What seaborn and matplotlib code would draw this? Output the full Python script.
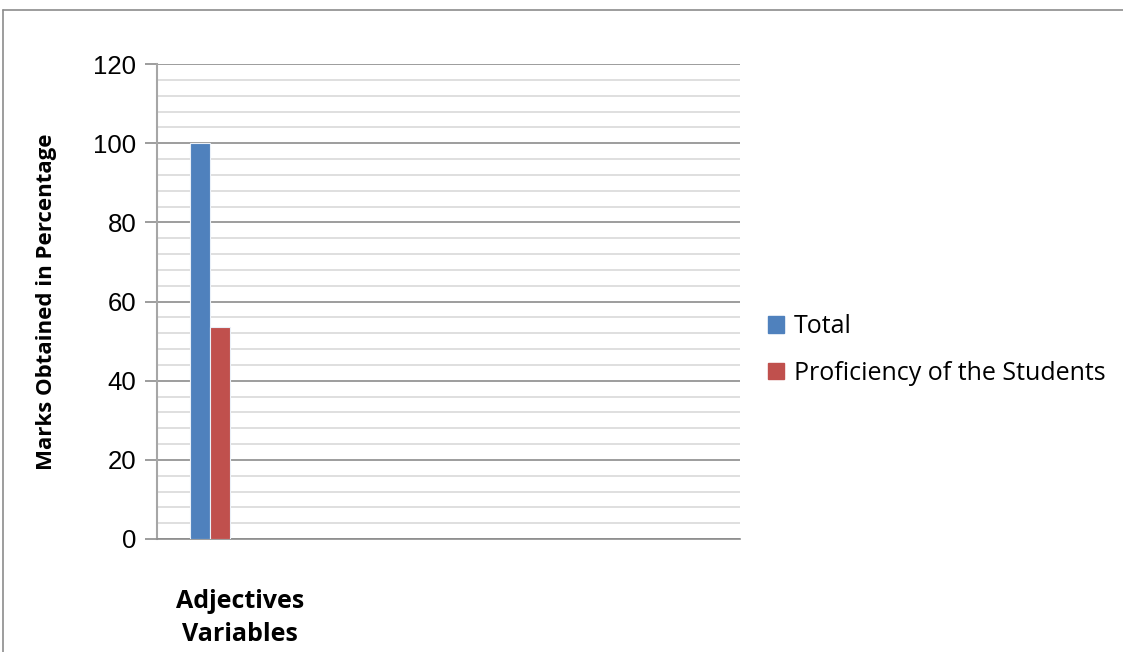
import matplotlib
matplotlib.use("Agg")
import matplotlib.pyplot as plt
import matplotlib.patches as mpatches
import seaborn as sns
import pandas as pd
import numpy as np

categories = ["Adjectives Variables"]
series = ["Total", "Proficiency of the Students"]
total_vals = [100]
prof_vals = [53.5]
colors = ["#4F81BD", "#C0504D"]
yticks = [0, 20, 40, 60, 80, 100, 120]

df = pd.DataFrame({
    "cat": categories * 2,
    "series": [series[0]] * len(categories) + [series[1]] * len(categories),
    "value": total_vals + prof_vals,
})

sns.set_theme(style="white")
plt.rcParams["font.family"] = ["Liberation Sans", "DejaVu Sans"]
plt.rcParams["text.color"] = "black"
plt.rcParams["axes.labelcolor"] = "black"
plt.rcParams["ytick.labelcolor"] = "black"

fig = plt.figure(figsize=(11.23, 6.52), dpi=100)
ax = fig.add_axes([157 / 1123, 1 - 539 / 652, (740 - 157) / 1123, (539 - 64) / 652])

for y in np.arange(0, 121, 4):
    ax.axhline(y, color="#D9D9D9" if y % 20 else "#8C8C8C", lw=1.2, zorder=0)

sns.barplot(data=df, x="cat", y="value", hue="series", palette=colors, saturation=1,
            width=0.8, ax=ax, edgecolor="#EAF0F8", linewidth=0.8, zorder=3, legend=False)

ax.set_xlim(-1.06, 10.6)
ax.set_ylim(0, 120)
ax.set_yticks(yticks)
ax.set_yticklabels([str(t) for t in yticks], fontsize=18.5)
ax.tick_params(axis="y", length=9, width=1.2, color="#8C8C8C", pad=6, left=True, direction="out")
ax.set_xticks([])
ax.set_xlabel("")
ax.set_ylabel("Marks Obtained in Percentage", fontsize=16, fontweight="bold",
              family=["Open Sans", "DejaVu Sans"], labelpad=26)
for s in ["top", "right"]:
    ax.spines[s].set_visible(False)
ax.spines["left"].set_color("#A6A6A6")
ax.spines["left"].set_linewidth(1.5)
ax.spines["bottom"].set_color("#8C8C8C")
ax.spines["bottom"].set_linewidth(1.2)

ax.text((240 - 157) / (740 - 157), -(618 - 539) / (539 - 64), "Adjectives\nVariables",
        transform=ax.transAxes, ha="center", va="center", fontsize=18,
        fontweight="bold", family=["Open Sans", "DejaVu Sans"], linespacing=1.45)

handles = [mpatches.Patch(color=c, label=l) for c, l in zip(colors, series)]
fig.legend(handles=handles, loc="center left", bbox_to_anchor=(745 / 1123, 1 - 350 / 652),
           frameon=False, handlelength=0.65, handleheight=0.65,
           handletextpad=0.4, labelspacing=0.85,
           prop={"family": ["Open Sans", "DejaVu Sans"], "size": 18})

fig.add_artist(plt.Line2D([3 / 1123, 3 / 1123], [0, 1 - 10 / 652], transform=fig.transFigure,
                          color="#8C8C8C", lw=1.2))
fig.add_artist(plt.Line2D([3 / 1123, 1], [1 - 10 / 652, 1 - 10 / 652], transform=fig.transFigure,
                          color="#8C8C8C", lw=1.2))

fig.savefig("out.png", dpi=100)
